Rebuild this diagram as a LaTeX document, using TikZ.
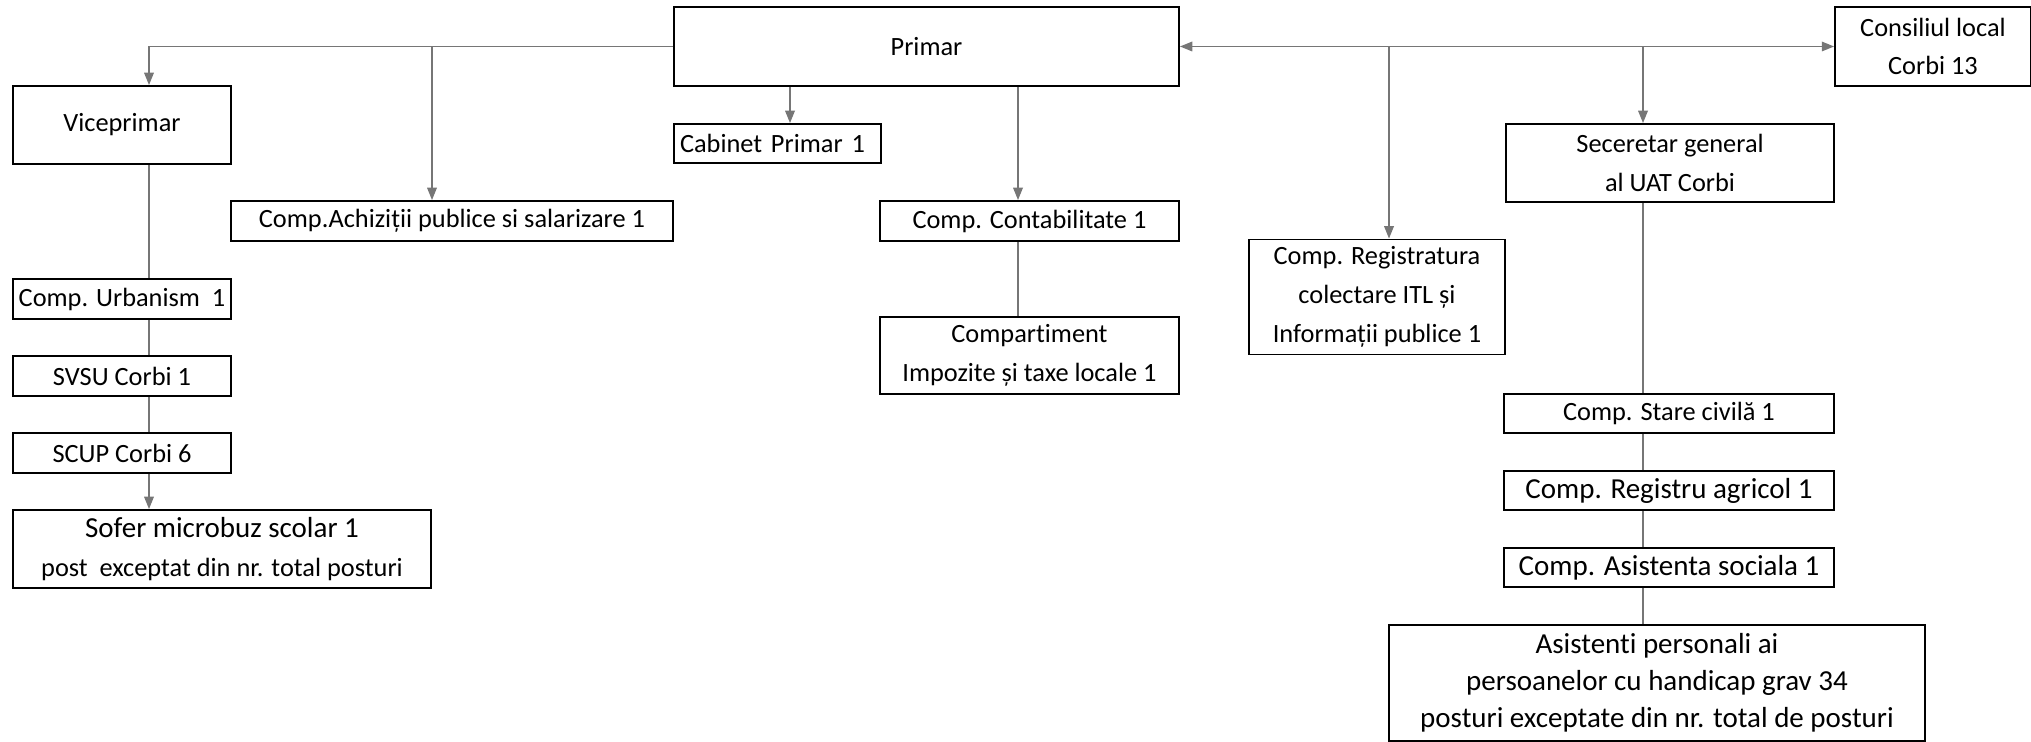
\documentclass[tikz,border=0pt]{standalone}
\usepackage{fontspec}
\setmainfont{Carlito}[Ligatures=NoCommon]
\usetikzlibrary{arrows.meta}
\definecolor{linegray}{RGB}{118,118,118}

\begin{document}
\begin{tikzpicture}[x=0.02cm,y=-0.02cm,
        box/.style 2 args={draw=black,line width=1.1pt,inner sep=0pt,minimum width=#1*0.02cm,minimum height=#2*0.02cm,align=center,font=\fontsize{15}{22}\selectfont},
        bigtext/.style={font=\fontsize{16.5}{21}\selectfont},
        link/.style={draw=linegray,line width=0.7pt},
        arr/.style={link,-{Triangle[width=5.5pt,length=7pt]}},
        dblarr/.style={link,{Triangle[width=5.5pt,length=7pt]}-{Triangle[width=5.5pt,length=7pt]}}]
        \useasboundingbox (0,0) rectangle (2031,742);

        \node[box={505}{79}] (primar) at (926.5,46.5) {Primar};
        \node[box={196}{79}] (consiliu) at (1933,46.5) {Consiliul local\\Corbi 13};
        \node[box={218}{78}] (vice) at (122,125) {Viceprimar};
        \node[box={207}{39},text width=3.9cm,align=left] (cabinet) at (777.5,143.5) {Cabinet Primar 1};
        \node[box={442}{40}] (achiz) at (452,221) {Comp.Achiziții publice si salarizare 1};
        \node[box={299}{40}] (contab) at (1029.5,221) {Comp. Contabilitate 1};
        \node[box={299}{77}] (impozite) at (1029.5,355.5) {Compartiment\\Impozite și taxe locale 1};
        \node[box={256}{115}] (registr) at (1377,297) {Comp. Registratura\\colectare ITL și\\Informații publice 1};
        \node[box={328}{78}] (secretar) at (1670,163) {Seceretar general\\al UAT Corbi};
        \node[box={330}{39}] (stare) at (1669,413.5) {Comp. Stare civilă 1};
        \node[box={330}{39},bigtext] (agricol) at (1669,490.5) {Comp. Registru agricol 1};
        \node[box={330}{39},bigtext] (asistenta) at (1669,567.5) {Comp. Asistenta sociala 1};
        \node[box={536}{116},bigtext] (personal) at (1657,683) {Asistenti personali ai\\persoanelor cu handicap grav 34\\posturi exceptate din nr. total de posturi};
        \node[box={218}{40}] (urban) at (122,299) {Comp. Urbanism~ 1};
        \node[box={218}{40}] (svsu) at (122,376) {SVSU Corbi 1};
        \node[box={218}{40}] (scup) at (122,453) {SCUP Corbi 6};
        \node[box={418}{78}] (sofer) at (222,549) {{\fontsize{16.5}{22}\selectfont Sofer microbuz scolar 1}\\post~ exceptat din nr. total posturi};

        \coordinate (cvice) at (149,0);
        \coordinate (cach) at (432,0);
        \coordinate (ccab) at (790,0);
        \coordinate (ccon) at (1018,0);
        \coordinate (creg) at (1389,0);
        \coordinate (csec) at (1643,0);

        \draw[arr] (primar.west) -| (cvice |- vice.north);
        \draw[arr] (cach |- primar.west) -- (cach |- achiz.north);
        \draw[arr] (ccab |- primar.south) -- (ccab |- cabinet.north);
        \draw[arr] (ccon |- primar.south) -- (ccon |- contab.north);
        \draw[link] (ccon |- contab.south) -- (ccon |- impozite.north);
        \draw[dblarr] (primar.east) -- (consiliu.west);
        \draw[arr] (creg |- primar.east) -- (creg |- registr.north);
        \draw[arr] (csec |- primar.east) -- (csec |- secretar.north);
        \foreach \a/\b in {vice/urban, urban/svsu, svsu/scup}
            \draw[link] (cvice |- \a.south) -- (cvice |- \b.north);
        \draw[arr] (cvice |- scup.south) -- (cvice |- sofer.north);
        \foreach \a/\b in {secretar/stare, stare/agricol, agricol/asistenta, asistenta/personal}
            \draw[link] (csec |- \a.south) -- (csec |- \b.north);
    \end{tikzpicture}
\end{document}
